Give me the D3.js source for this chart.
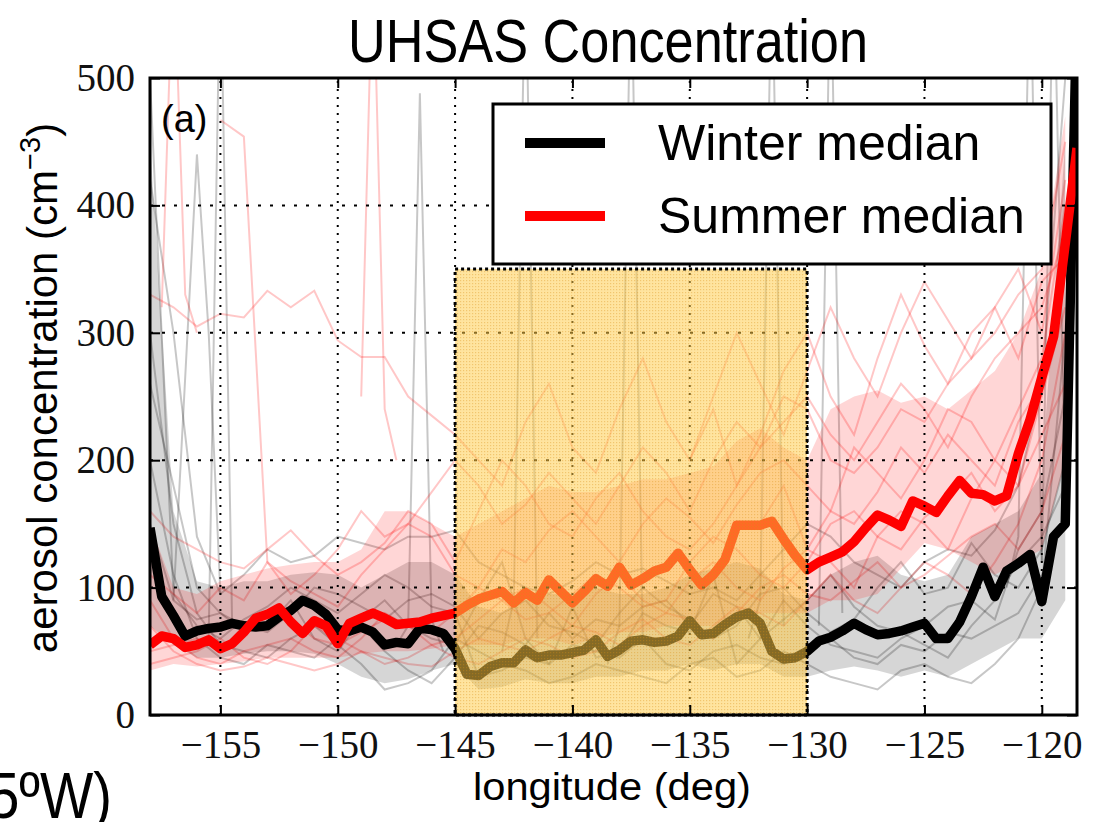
<!DOCTYPE html>
<html>
<head>
<meta charset="utf-8">
<script src="https://cdn.jsdelivr.net/npm/d3@7"></script>
<style>
  body { margin: 0; background: #fff; }
  svg { display: block; }
</style>
</head>
<body>
<svg id="chart" width="1104" height="822"></svg>
<script>
// ---------- data ----------
// medians on a 0.5° longitude grid, -158 .. -118.5
const medianStart = -158;
const medianStep = 0.5;
const winterMedian = [147, 93, 78, 62, 66, 68, 69, 72, 70, 69, 70, 77, 82, 90, 86, 79, 67, 66, 69, 65,
  55, 57, 56, 68, 67, 64, 52, 32, 31, 38, 41, 41, 51, 45, 47, 47, 49, 51, 59, 46,
  51, 58, 59, 57, 58, 62, 74, 63, 64, 71, 77, 80, 72, 50, 44, 45, 50, 58, 61, 66,
  72, 67, 63, 64, 66, 69, 72, 60, 60, 73, 93, 116, 93, 113, 119, 126, 89, 140, 150, 560];
const summerMedian = [55, 62, 60, 53, 55, 59, 52, 56, 65, 76, 79, 84, 73, 64, 74, 70, 56, 72, 76, 80,
  76, 71, 72, 73, 76, 78, 80, 86, 91, 94, 97, 88, 96, 90, 106, 97, 88, 97, 107, 101,
  116, 102, 107, 113, 116, 127, 114, 102, 110, 122, 149, 149, 149, 152, 138, 125, 114, 120, 124, 128,
  136, 147, 157, 153, 148, 168, 164, 159, 172, 184, 174, 173, 168, 172, 205, 232, 265, 297, 370, 445];

// interquartile ranges on a 1° grid, -158 .. -119
const bandStart = -158;
const winterLow  = [70, 55, 45, 45, 48, 50, 50, 48, 40, 30, 25, 28, 35, 40, 20, 22, 28, 25, 25, 30,
  30, 35, 35, 40, 35, 40, 40, 30, 30, 35, 38, 35, 30, 35, 30, 40, 50, 60, 60, 90];
const winterHigh = [450, 160, 105, 100, 105, 105, 110, 112, 110, 100, 110, 120, 120, 110, 85, 80, 90, 95, 95, 100,
  95, 95, 100, 110, 115, 120, 115, 95, 90, 110, 120, 125, 110, 105, 110, 140, 150, 160, 190, 450];
const summerLow  = [35, 40, 38, 40, 42, 45, 45, 45, 45, 48, 50, 50, 52, 55, 55, 55, 60, 60, 55, 60,
  65, 65, 70, 70, 70, 75, 80, 80, 80, 90, 90, 95, 115, 135, 130, 120, 110, 120, 130, 200];
const summerHigh = [150, 100, 95, 105, 110, 115, 118, 120, 120, 130, 160, 160, 150, 140, 150, 160, 170, 180, 175, 175,
  180, 185, 185, 190, 195, 215, 225, 210, 200, 240, 250, 255, 245, 250, 240, 255, 270, 300, 350, 470];

// individual winter flights (1° grid)
const winterFlight1 = [500, 95, 70, 60, 75, 85, 100, 90, 80, 95, 110, 100, 85, 80, 30, 35, 45, 40, 55, 50,
  45, 60, 40, 35, 50, 55, 45, 40, 50, 60, 45, 40, 55, 50, 65, 60, 70, 80, 110, 160];
const winterFlight2 = [420, 300, 140, 95, 110, 130, 120, 125, 140, 135, 130, 140, 140, 145, 120, 110, 100, 95, 105, 120,
  110, 115, 105, 95, 100, 90, 110, 130, 150, 140, 120, 110, 100, 120, 130, 125, 145, 180, 260, 500];
const winterFlight3 = [300, 150, 80, 55, 50, 45, 60, 70, 55, 40, 20, 25, 35, 60, 50, 40, 35, 25, 30, 40,
  35, 30, 25, 40, 45, 30, 35, 50, 40, 30, 25, 20, 35, 40, 30, 25, 40, 60, 100, 300];
const winterFlight4 = [200, 110, 60, 45, 40, 55, 50, 45, 60, 70, 50, 35, 25, 45, 70, 65, 55, 80, 60, 75,
  70, 85, 90, 70, 95, 85, 60, 75, 90, 110, 85, 70, 65, 55, 45, 70, 90, 120, 140, 180];
const winterFlight5 = [260, 180, 100, 80, 70, 65, 80, 100, 95, 85, 75, 90, 95, 85, 60, 80, 90, 70, 65, 55,
  80, 100, 85, 75, 60, 70, 95, 100, 80, 65, 75, 100, 120, 95, 100, 135, 110, 100, 130, 200];
const winterFlight6 = [150, 90, 75, 80, 65, 70, 90, 60, 50, 75, 90, 70, 60, 55, 90, 120, 60, 40, 85, 45,
  50, 80, 70, 65, 110, 40, 60, 90, 70, 55, 50, 45, 60, 70, 85, 90, 75, 130, 160, 250];
// short bursts sampled every 0.5°
const winterBurstLon = [
  [-157, -156, -155.5, -155],
  [-155.5, -155, -154.5],
  [-147.5, -147, -146.5, -146, -145.5],
  [-143, -142.5, -142, -141.5],
  [-138.5, -138, -137.5, -137],
  [-132.5, -132, -131.5, -131],
  [-129.5, -129, -128.5],
  [-121.5, -121, -120.5, -120],
  [-120, -119.5, -119]
];
const winterBurstVal = [
  [90, 440, 300, 95],
  [60, 600, 70],
  [55, 70, 488, 75, 50],
  [50, 90, 600, 60],
  [40, 70, 600, 55],
  [60, 90, 600, 70],
  [70, 600, 80],
  [100, 140, 600, 120],
  [120, 600, 180]
];

// individual summer flights (1° grid)
const summerFlight1 = [330, 320, 305, 315, 312, 333, 320, 333, 294, 281, 281, 250, 235, 220, 200, 180, 230, 260, 210, 190,
  240, 280, 230, 200, 250, 300, 260, 220, 270, 320, 280, 250, 300, 340, 310, 280, 320, 350, 300, 420];
const summerFlight2 = [467, 454, 120, 95, 110, 130, 160, 140, 150, 175, 200, 180, 150, 165, 190, 170, 150, 180, 210, 190,
  160, 200, 230, 210, 250, 240, 200, 190, 210, 240, 230, 260, 280, 300, 330, 350, 450];
const summerFlight3 = [90, 60, 45, 40, 50, 55, 60, 50, 45, 60, 80, 70, 55, 60, 75, 90, 100, 85, 70, 95,
  110, 90, 80, 105, 120, 100, 90, 115, 130, 120, 100, 140, 160, 150, 130, 170, 200, 240, 280, 400];
const summerFlight4 = [70, 50, 40, 35, 38, 45, 40, 35, 40, 50, 45, 40, 38, 50, 60, 55, 50, 60, 70, 65,
  55, 70, 80, 75, 60, 80, 100, 110, 95, 90, 105, 120, 100, 110, 125, 140, 150, 130, 160, 220];
const summerFlight5 = [110, 95, 80, 100, 90, 120, 105, 95, 85, 110, 130, 150, 140, 110, 100, 130, 120, 145, 160, 140,
  120, 150, 170, 155, 135, 165, 190, 200, 180, 160, 150, 175, 210, 190, 220, 200, 180, 230, 260, 350];
const summerFlight6 = [160, 140, 130, 120, 115, 130, 145, 125, 110, 120, 135, 160, 150, 120, 160, 200, 180, 150, 140, 170,
  190, 160, 140, 130, 150, 180, 210, 230, 250, 220, 200, 230, 260, 240, 210, 250, 280, 300, 320, 380];
const summerFlight7 = [50, 55, 60, 50, 70, 80, 75, 60, 55, 65, 75, 70, 65, 80, 100, 90, 75, 80, 95, 110,
  100, 85, 90, 120, 140, 130, 110, 100, 120, 150, 160, 140, 130, 155, 170, 190, 160, 180, 250, 320];
const summerFlight8 = [40, 45, 50, 60, 45, 40, 50, 70, 60, 50, 40, 45, 55, 45, 40, 50, 60, 55, 45, 50,
  65, 75, 60, 55, 70, 85, 80, 70, 90, 110, 90, 80, 100, 120, 110, 95, 120, 150, 200, 300];
const summerFlight9 = [200, 240, 180, 220, 270, 300, 250, 220, 280, 330, 290, 260, 300, 320, 280, 340, 360];
const summerFlight10 = [150, 180, 130, 160, 210, 190, 170, 200, 240, 230, 200, 180, 220, 260];
const summerBurstLon = [
  [-157.5, -157, -156.5, -156],
  [-149, -148.5, -148, -147.5]
];
const summerBurstVal = [
  [320, 600, 330, 300],
  [250, 600, 240, 200]
];

const xTicks = [-155, -150, -145, -140, -135, -130, -125, -120];
const yTicks = [0, 100, 200, 300, 400, 500];
const highlightLon = [-145, -130];
const highlightTop = 350;

// ---------- layout ----------
const svg = d3.select("#chart");
const x = d3.scaleLinear().domain([-158, -118.5]).range([150, 1077]);
const y = d3.scaleLinear().domain([0, 500]).range([715, 78]);

const defs = svg.append("defs");
defs.append("clipPath").attr("id", "plotClip")
  .append("rect").attr("x", 150).attr("y", 78).attr("width", 927).attr("height", 637);
const pat = defs.append("pattern").attr("id", "dots")
  .attr("width", 3).attr("height", 3).attr("patternUnits", "userSpaceOnUse");
pat.append("rect").attr("width", 3).attr("height", 3).attr("fill", "rgba(255,203,70,0.52)");
pat.append("rect").attr("x", 1).attr("y", 1).attr("width", 1.2).attr("height", 1.2).attr("fill", "rgba(215,140,20,0.35)");

const plot = svg.append("g").attr("clip-path", "url(#plotClip)");

const toPoints = (start, step, vals) => vals.map((v, i) => [start + i * step, v]);
const line = d3.line().x(d => x(d[0])).y(d => y(d[1]));

// thin flight tracks
const winterFlights = [winterFlight1, winterFlight2, winterFlight3, winterFlight4, winterFlight5, winterFlight6];
const summerFlights = [summerFlight1, summerFlight2, summerFlight3, summerFlight4, summerFlight5,
  summerFlight6, summerFlight7, summerFlight8, summerFlight9, summerFlight10];
const summerStarts = [-158, -155, -158, -158, -158, -158, -158, -158, -135, -132];

const thin = plot.append("g").attr("fill", "none").attr("stroke-width", 2).attr("stroke-linejoin", "miter");
winterFlights.forEach(f => thin.append("path").attr("d", line(toPoints(-158, 1, f))).attr("stroke", "rgba(0,0,0,0.22)"));
winterBurstLon.forEach((lons, k) => thin.append("path")
  .attr("d", line(lons.map((l, i) => [l, winterBurstVal[k][i]]))).attr("stroke", "rgba(0,0,0,0.22)"));
summerFlights.forEach((f, k) => thin.append("path").attr("d", line(toPoints(summerStarts[k], 1, f))).attr("stroke", "rgba(255,0,0,0.22)"));
summerBurstLon.forEach((lons, k) => thin.append("path")
  .attr("d", line(lons.map((l, i) => [l, summerBurstVal[k][i]]))).attr("stroke", "rgba(255,0,0,0.22)"));

// interquartile bands
const area = d3.area().x(d => x(d.lon)).y0(d => y(d.lo)).y1(d => y(d.hi));
const winterBand = winterLow.map((lo, i) => ({ lon: bandStart + i, lo, hi: winterHigh[i] }));
const summerBand = summerLow.map((lo, i) => ({ lon: bandStart + i, lo, hi: summerHigh[i] }));
plot.append("path").attr("d", area(winterBand)).attr("fill", "rgba(0,0,0,0.16)");
plot.append("path").attr("d", area(summerBand)).attr("fill", "rgba(255,0,0,0.16)");

// medians
plot.append("path").attr("d", line(toPoints(medianStart, medianStep, winterMedian)))
  .attr("fill", "none").attr("stroke", "#000").attr("stroke-width", 9.5).attr("stroke-linejoin", "round");
plot.append("path").attr("d", line(toPoints(medianStart, medianStep, summerMedian)))
  .attr("fill", "none").attr("stroke", "#ff0000").attr("stroke-width", 9.5).attr("stroke-linejoin", "round");

// grid
const grid = svg.append("g").attr("stroke", "#000").attr("stroke-width", 2);
xTicks.forEach(t => grid.append("line")
  .attr("x1", x(t)).attr("x2", x(t)).attr("y1", y(0)).attr("y2", y(500))
  .attr("stroke-dasharray", "2,6"));
yTicks.slice(1, -1).forEach(t => grid.append("line")
  .attr("x1", x(-158)).attr("x2", x(-118.5)).attr("y1", y(t)).attr("y2", y(t))
  .attr("stroke-dasharray", "3,9"));

// highlighted longitude band
svg.append("rect")
  .attr("x", x(highlightLon[0])).attr("y", y(highlightTop))
  .attr("width", x(highlightLon[1]) - x(highlightLon[0]))
  .attr("height", y(0) - y(highlightTop))
  .attr("fill", "url(#dots)")
  .attr("stroke", "#000").attr("stroke-width", 3).attr("stroke-dasharray", "3,3");

// axes
const serif = "'Liberation Serif', 'DejaVu Serif', serif";
const fmt = d => d3.format("d")(d).replace("-", "\u2212");
const gx = svg.append("g").attr("transform", "translate(0,715)")
  .call(d3.axisBottom(x).tickValues(xTicks).tickSize(-10).tickSizeOuter(0).tickPadding(15).tickFormat(fmt));
const gy = svg.append("g").attr("transform", "translate(150,0)")
  .call(d3.axisLeft(y).tickValues(yTicks).tickSize(-10).tickSizeOuter(0).tickPadding(15));
const gt = svg.append("g").attr("transform", "translate(0,78)")
  .call(d3.axisTop(x).tickValues(xTicks).tickSize(-10).tickSizeOuter(0).tickFormat(""));
const gr = svg.append("g").attr("transform", "translate(1077,0)")
  .call(d3.axisRight(y).tickValues(yTicks).tickSize(-10).tickSizeOuter(0).tickFormat(""));
[gx, gy, gt, gr].forEach(g => {
  g.select(".domain").remove();
  g.selectAll(".tick line").attr("stroke", "#000").attr("stroke-width", 2);
  g.selectAll("text").attr("font-family", serif).attr("font-size", 39).attr("fill", "#111");
});

// frame
svg.append("rect").attr("x", 150).attr("y", 78).attr("width", 927).attr("height", 637)
  .attr("fill", "none").attr("stroke", "#000").attr("stroke-width", 3);

// legend
const sans = "'Liberation Sans', Arial, sans-serif";
const legend = svg.append("g");
legend.append("rect").attr("x", 493).attr("y", 104).attr("width", 558).attr("height", 160)
  .attr("fill", "#fff").attr("stroke", "#000").attr("stroke-width", 3);
const legendItems = [["Winter median", "#000", 143], ["Summer median", "#ff0000", 216]];
legendItems.forEach(([label, color, ly]) => {
  legend.append("line").attr("x1", 525).attr("x2", 605).attr("y1", ly).attr("y2", ly)
    .attr("stroke", color).attr("stroke-width", 10);
  legend.append("text").attr("x", 658).attr("y", ly + 17).text(label)
    .attr("font-family", sans).attr("font-size", 50).attr("fill", "#000");
});

// panel tag
svg.append("text").attr("x", 161).attr("y", 132).text("(a)")
  .attr("font-family", sans).attr("font-size", 38).attr("fill", "#000");

// axis titles
svg.append("text").attr("x", 473).attr("y", 800)
  .attr("font-family", sans).attr("font-size", 38)
  .attr("textLength", 278).attr("lengthAdjust", "spacingAndGlyphs")
  .text("longitude (deg)");
const yl = svg.append("text").attr("transform", "translate(57,388) rotate(-90)")
  .attr("text-anchor", "middle").attr("font-family", sans).attr("font-size", 42);
yl.append("tspan").text("aerosol concentration (cm");
yl.append("tspan").attr("dy", -17).attr("font-size", 29).text("\u22123");
yl.append("tspan").attr("dy", 17).text(")");

// title, set in a narrowed sans face
svg.append("text").attr("x", 348).attr("y", 62)
  .attr("font-family", sans).attr("font-size", 62).attr("fill", "#000")
  .attr("textLength", 520).attr("lengthAdjust", "spacingAndGlyphs")
  .text("UHSAS Concentration");

// clipped caption fragment at the lower left
svg.append("text").attr("x", -12).attr("y", 818)
  .attr("font-family", sans).attr("font-size", 64).attr("fill", "#000")
  .attr("textLength", 124).attr("lengthAdjust", "spacingAndGlyphs")
  .text("5\u00baW)");
</script>
</body>
</html>
